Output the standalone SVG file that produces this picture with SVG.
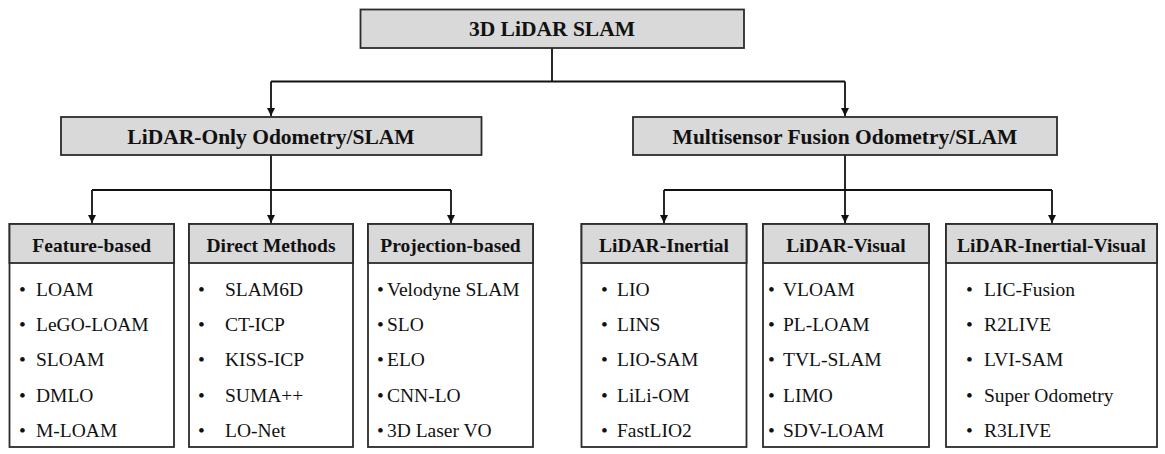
<svg xmlns="http://www.w3.org/2000/svg" width="1165" height="454" viewBox="0 0 1165 454">
<defs>
<style>
.box{fill:#ffffff;stroke:#2b2b2b;stroke-width:1.8}
.hdr{fill:#d9d9d9;stroke:#2b2b2b;stroke-width:1.8}
.ln{fill:none;stroke:#111;stroke-width:1.8}
.t1{font-family:"Liberation Serif","Times New Roman",serif;font-weight:bold;font-size:21.5px;fill:#111;text-anchor:middle}
.th{font-family:"Liberation Serif","Times New Roman",serif;font-weight:bold;font-size:19.5px;fill:#111;text-anchor:middle}
.ti{font-family:"Liberation Serif","Times New Roman",serif;font-size:19.5px;fill:#111}
</style>
<marker id="ah" markerUnits="userSpaceOnUse" markerWidth="10" markerHeight="10" refX="8" refY="4" orient="auto">
<path d="M0,0 L8,4 L0,8 Z" fill="#111"/>
</marker>
</defs>
<rect width="1165" height="454" fill="#ffffff"/>

<g id="connectors">
<path class="ln" d="M552 48 V81.5"/>
<path class="ln" d="M271 81.5 H845"/>
<path class="ln" d="M271 81.5 V116" marker-end="url(#ah)"/>
<path class="ln" d="M845 81.5 V116" marker-end="url(#ah)"/>
<path class="ln" d="M271 155 V190"/>
<path class="ln" d="M92 190 H451"/>
<path class="ln" d="M92 190 V223" marker-end="url(#ah)"/>
<path class="ln" d="M271 190 V223" marker-end="url(#ah)"/>
<path class="ln" d="M451 190 V223" marker-end="url(#ah)"/>
<path class="ln" d="M845 155 V190"/>
<path class="ln" d="M664 190 H1052"/>
<path class="ln" d="M664 190 V223" marker-end="url(#ah)"/>
<path class="ln" d="M845 190 V223" marker-end="url(#ah)"/>
<path class="ln" d="M1052 190 V223" marker-end="url(#ah)"/>
</g>

<g id="root">
<rect class="hdr" x="360.5" y="9.5" width="383.5" height="38.5"/>
<text class="t1" x="552" y="36">3D LiDAR SLAM</text>
</g>

<g id="lidar-only">
<rect class="hdr" x="61" y="117" width="420.5" height="38"/>
<text class="t1" x="271" y="144">LiDAR-Only Odometry/SLAM</text>
</g>

<g id="multisensor">
<rect class="hdr" x="633" y="117" width="424" height="38"/>
<text class="t1" x="845" y="144">Multisensor Fusion Odometry/SLAM</text>
</g>

<g id="feature-based">
<rect class="box" x="9.5" y="224" width="164.5" height="223"/>
<rect class="hdr" x="9.5" y="224" width="164.5" height="39"/>
<text class="th" x="91.75" y="251.5">Feature-based</text>
<g class="ti">
<text x="19" y="296">•</text><text x="36" y="296">LOAM</text>
<text x="19" y="331">•</text><text x="36" y="331">LeGO-LOAM</text>
<text x="19" y="366">•</text><text x="36" y="366">SLOAM</text>
<text x="19" y="401.5">•</text><text x="36" y="401.5">DMLO</text>
<text x="19" y="437">•</text><text x="36" y="437">M-LOAM</text>
</g>
</g>

<g id="direct-methods">
<rect class="box" x="189" y="224" width="164" height="223"/>
<rect class="hdr" x="189" y="224" width="164" height="39"/>
<text class="th" x="271" y="251.5">Direct Methods</text>
<g class="ti">
<text x="198" y="296">•</text><text x="225" y="296">SLAM6D</text>
<text x="198" y="331">•</text><text x="225" y="331">CT-ICP</text>
<text x="198" y="366">•</text><text x="225" y="366">KISS-ICP</text>
<text x="198" y="401.5">•</text><text x="225" y="401.5">SUMA++</text>
<text x="198" y="437">•</text><text x="225" y="437">LO-Net</text>
</g>
</g>

<g id="projection-based">
<rect class="box" x="368" y="224" width="165" height="223"/>
<rect class="hdr" x="368" y="224" width="165" height="39"/>
<text class="th" x="450.5" y="251.5">Projection-based</text>
<g class="ti">
<text x="377" y="296">•</text><text x="387" y="296">Velodyne SLAM</text>
<text x="377" y="331">•</text><text x="387" y="331">SLO</text>
<text x="377" y="366">•</text><text x="387" y="366">ELO</text>
<text x="377" y="401.5">•</text><text x="387" y="401.5">CNN-LO</text>
<text x="377" y="437">•</text><text x="387" y="437">3D Laser VO</text>
</g>
</g>

<g id="lidar-inertial">
<rect class="box" x="581.5" y="224" width="165" height="223"/>
<rect class="hdr" x="581.5" y="224" width="165" height="39"/>
<text class="th" x="664" y="251.5">LiDAR-Inertial</text>
<g class="ti">
<text x="601" y="296">•</text><text x="617" y="296">LIO</text>
<text x="601" y="331">•</text><text x="617" y="331">LINS</text>
<text x="601" y="366">•</text><text x="617" y="366">LIO-SAM</text>
<text x="601" y="401.5">•</text><text x="617" y="401.5">LiLi-OM</text>
<text x="601" y="437">•</text><text x="617" y="437">FastLIO2</text>
</g>
</g>

<g id="lidar-visual">
<rect class="box" x="763" y="224" width="166" height="223"/>
<rect class="hdr" x="763" y="224" width="166" height="39"/>
<text class="th" x="846" y="251.5">LiDAR-Visual</text>
<g class="ti">
<text x="768" y="296">•</text><text x="783" y="296">VLOAM</text>
<text x="768" y="331">•</text><text x="783" y="331">PL-LOAM</text>
<text x="768" y="366">•</text><text x="783" y="366">TVL-SLAM</text>
<text x="768" y="401.5">•</text><text x="783" y="401.5">LIMO</text>
<text x="768" y="437">•</text><text x="783" y="437">SDV-LOAM</text>
</g>
</g>

<g id="lidar-inertial-visual">
<rect class="box" x="946" y="224" width="211" height="223"/>
<rect class="hdr" x="946" y="224" width="211" height="39"/>
<text class="th" x="1051.5" y="251.5">LiDAR-Inertial-Visual</text>
<g class="ti">
<text x="966" y="296">•</text><text x="984" y="296">LIC-Fusion</text>
<text x="966" y="331">•</text><text x="984" y="331">R2LIVE</text>
<text x="966" y="366">•</text><text x="984" y="366">LVI-SAM</text>
<text x="966" y="401.5">•</text><text x="984" y="401.5">Super Odometry</text>
<text x="966" y="437">•</text><text x="984" y="437">R3LIVE</text>
</g>
</g>
</svg>
